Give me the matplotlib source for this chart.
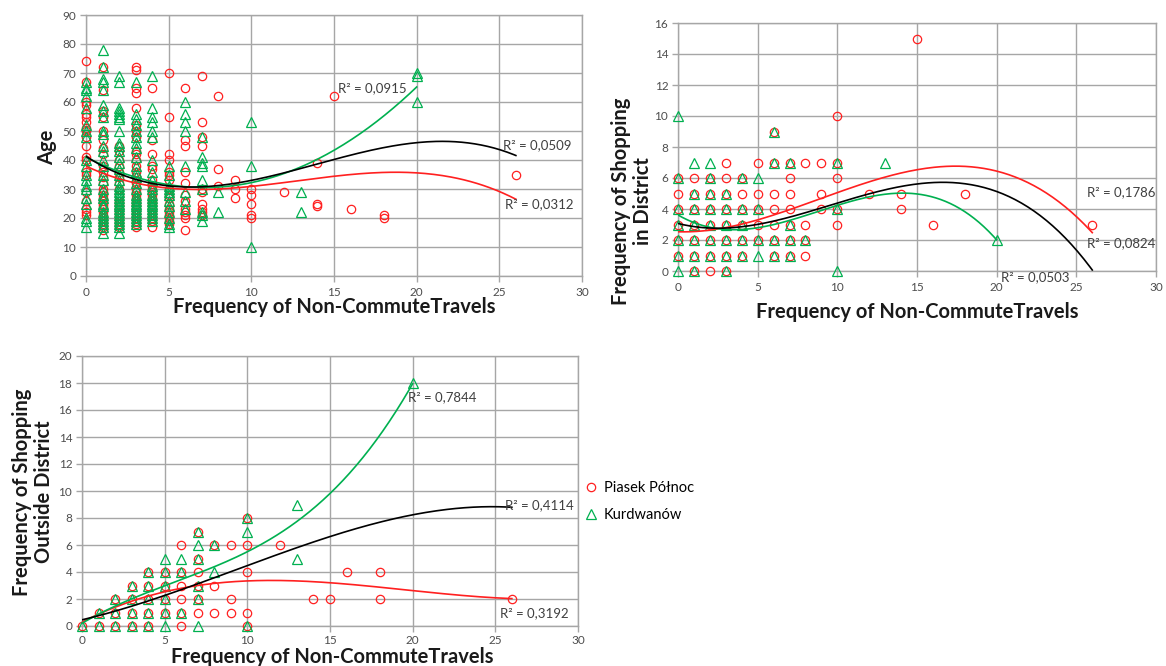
import numpy as np
import matplotlib
matplotlib.use("Agg")
import matplotlib.pyplot as plt

plt.rcParams['font.family'] = ['Lato', 'DejaVu Sans']

RED = '#FF2020'
GREEN = '#00B050'
GRID = '#A6A6A6'
TXT = '#404040'

series_labels = ['Piasek Północ', 'Kurdwanów']
xlabel = 'Frequency of Non-CommuteTravels'

# ---------------- Chart 1: Age ----------------
age_red = [
    (0,74),(0,67),(0,60),(0,59),(0,56),(0,55),(0,53),(0,51),(0,50),(0,48),(0,45),(0,41),(0,40),(0,36),(0,35),(0,29),(0,26),(0,23),(0,22),(0,21),
    (1,72),(1,64),(1,57),(1,55),(1,50),(1,47),(1,44),(1,42),(1,38),(1,36),(1,34),(1,32),(1,30),(1,29),(1,28),(1,27),(1,26),(1,25),(1,24),(1,23),(1,22),(1,21),(1,20),(1,19),(1,18),(1,17),(1,16),
    (2,45),(2,43),(2,40),(2,38),(2,36),(2,34),(2,32),(2,30),(2,28),(2,26),(2,25),(2,24),(2,23),(2,22),(2,21),(2,20),(2,19),(2,18),(2,17),
    (3,72),(3,71),(3,65),(3,63),(3,58),(3,52),(3,50),(3,48),(3,43),(3,42),(3,40),(3,38),(3,36),(3,34),(3,32),(3,30),(3,29),(3,28),(3,27),(3,26),(3,25),(3,24),(3,23),(3,22),(3,21),(3,20),(3,19),(3,18),(3,17),
    (4,65),(4,47),(4,42),(4,38),(4,37),(4,33),(4,31),(4,30),(4,29),(4,28),(4,27),(4,26),(4,25),(4,24),(4,23),(4,22),(4,21),(4,20),(4,19),(4,17),
    (5,70),(5,55),(5,42),(5,40),(5,36),(5,35),(5,33),(5,30),(5,28),(5,27),(5,25),(5,23),(5,22),(5,21),(5,20),(5,19),(5,18),
    (6,65),(6,47),(6,45),(6,36),(6,32),(6,28),(6,26),(6,23),(6,22),(6,21),(6,20),(6,16),
    (7,69),(7,53),(7,48),(7,45),(7,30),(7,29),(7,25),(7,23),(7,22),(7,21),
    (8,62),(8,37),(8,31),(9,33),(9,30),(9,27),
    (10,30),(10,28),(10,25),(10,21),(10,20),(12,29),
    (14,39),(14,25),(14,24),(15,62),(16,23),(18,21),(18,20),(26,35),
]
age_green = [
    (0,67),(0,65),(0,64),(0,62),(0,58),(0,52),(0,50),(0,48),(0,40),(0,38),(0,35),(0,33),(0,31),(0,30),(0,27),(0,25),(0,20),(0,19),(0,17),
    (1,78),(1,72),(1,68),(1,67),(1,64),(1,59),(1,57),(1,55),(1,50),(1,49),(1,45),(1,43),(1,40),(1,38),(1,35),(1,33),(1,30),(1,28),(1,27),(1,25),(1,24),(1,22),(1,21),(1,20),(1,19),(1,18),(1,17),(1,15),
    (2,69),(2,67),(2,58),(2,57),(2,56),(2,55),(2,54),(2,50),(2,46),(2,45),(2,43),(2,41),(2,39),(2,37),(2,35),(2,33),(2,31),(2,30),(2,29),(2,28),(2,27),(2,26),(2,25),(2,24),(2,23),(2,22),(2,21),(2,20),(2,19),(2,18),(2,17),(2,15),
    (3,67),(3,56),(3,54),(3,52),(3,50),(3,48),(3,46),(3,44),(3,41),(3,38),(3,36),(3,34),(3,32),(3,30),(3,28),(3,27),(3,26),(3,25),(3,24),(3,23),(3,22),(3,21),(3,20),(3,19),(3,18),
    (4,69),(4,58),(4,55),(4,53),(4,50),(4,48),(4,40),(4,36),(4,33),(4,31),(4,30),(4,28),(4,27),(4,26),(4,25),(4,24),(4,23),(4,22),(4,21),(4,20),(4,19),
    (5,38),(5,35),(5,31),(5,30),(5,29),(5,28),(5,26),(5,24),(5,22),(5,20),(5,18),(5,17),
    (6,60),(6,56),(6,53),(6,50),(6,38),(6,29),(6,26),(6,23),
    (7,48),(7,41),(7,39),(7,38),(7,33),(7,30),(7,22),(7,21),(7,19),
    (8,29),(8,22),(10,53),(10,38),(10,10),(13,29),(13,22),(20,70),(20,69),(20,60),
]
# trendline shapes (x, y)
age_trend_red = [(0,38),(3,32),(5,30),(8,30.2),(10,31),(13,33),(16,35),(20,35.4),(23,33),(26,26.5)]
age_trend_green = [(0,41),(3,34),(5,31.5),(7,30.8),(10,32),(15,42.9),(17,51.4),(20,65)]
age_trend_black = [(0,41),(3,34),(5,31),(8,30.8),(10,32.5),(15,41),(20,45.9),(22,46),(26,41.7)]
age_r2 = ['R² = 0,0312', 'R² = 0,0915', 'R² = 0,0509']
age_r2_pos = [(25.35,24.8),(15.25,64.8),(25.2,45.2)]

# ---------------- Chart 2: Shopping in district ----------------
ind_red = [
    (0,1),(0,2),(0,3),(0,4),(0,5),(0,6),(1,0),(1,1),(1,2),(1,3),(1,4),(1,5),(1,6),
    (2,0),(2,1),(2,2),(2,3),(2,4),(2,5),(2,6),(3,0),(3,1),(3,2),(3,3),(3,4),(3,5),(3,6),(3,7),
    (4,1),(4,2),(4,3),(4,4),(4,5),(4,6),(5,2),(5,3),(5,4),(5,5),(5,7),
    (6,1),(6,2),(6,3),(6,4),(6,5),(6,7),(6,9),(7,1),(7,2),(7,3),(7,4),(7,5),(7,6),(7,7),
    (8,1),(8,2),(8,3),(8,7),(9,4),(9,5),(9,7),(10,3),(10,4),(10,6),(10,7),(10,10),
    (12,5),(14,4),(14,5),(15,15),(16,3),(18,5),(26,3),
]
ind_green = [
    (0,0),(0,1),(0,2),(0,3),(0,4),(0,6),(0,10),(1,0),(1,1),(1,2),(1,3),(1,4),(1,5),(1,7),
    (2,1),(2,2),(2,3),(2,4),(2,5),(2,6),(2,7),(3,0),(3,1),(3,2),(3,3),(3,4),(3,5),
    (4,1),(4,2),(4,3),(4,4),(4,6),(5,1),(5,2),(5,4),(5,6),(6,1),(6,2),(6,7),(6,9),
    (7,1),(7,2),(7,3),(7,7),(8,2),(10,0),(10,4),(10,7),(13,7),(20,2),
]
ind_trend_red = [(0,2.65),(3,2.7),(5,3.1),(10,5.3),(15,6.5),(18,6.85),(20,6.4),(23,4.9),(26,2.6)]
ind_trend_green = [(0,3.6),(3,2.7),(5,2.8),(10,4.2),(13,4.95),(15,5.0),(17,4.4),(20,2.0)]
ind_trend_black = [(0,3.1),(3,2.75),(5,2.95),(10,4.4),(13,5.3),(17.5,5.7),(20,5.1),(22.5,3.7),(26,0.1)]
ind_r2 = ['R² = 0,1786', 'R² = 0,0503', 'R² = 0,0824']
ind_r2_pos = [(25.7,5.1),(20.3,-0.4),(25.7,1.8)]

# ---------------- Chart 3: Shopping outside district ----------------
out_red = [
    (0,0),(1,0),(1,1),(2,0),(2,1),(2,2),(3,0),(3,1),(3,2),(3,3),(4,0),(4,1),(4,2),(4,3),(4,4),
    (5,1),(5,2),(5,3),(5,4),(6,0),(6,1),(6,2),(6,3),(6,4),(6,6),(7,1),(7,2),(7,3),(7,4),(7,5),(7,7),
    (8,1),(8,3),(8,6),(9,1),(9,2),(9,6),(10,0),(10,1),(10,4),(10,6),(10,8),
    (12,6),(14,2),(15,2),(16,4),(18,4),(18,2),(26,2),
]
out_green = [
    (0,0),(1,0),(1,1),(2,0),(2,1),(2,2),(3,0),(3,1),(3,2),(3,3),(4,0),(4,1),(4,2),(4,3),(4,4),
    (5,0),(5,1),(5,2),(5,3),(5,4),(5,5),(6,1),(6,4),(6,5),(7,0),(7,2),(7,3),(7,5),(7,6),(7,7),
    (8,4),(8,6),(10,0),(10,7),(10,8),(13,5),(13,9),(20,18),
]
out_trend_red = [(0,0.2),(3,1.9),(5,2.75),(8,3.05),(10,3.2),(13,3.3),(15,3.25),(20,2.7),(26,2.0)]
out_trend_green = [(0,0.2),(5,3.0),(10,5.4),(13,7.85),(15,9.85),(18,14.0),(20,18)]
out_trend_black = [(0,0.45),(5,2.3),(10,4.4),(15,6.7),(20,8.2),(26,8.8)]
out_r2 = ['R² = 0,3192', 'R² = 0,7844', 'R² = 0,4114']
out_r2_pos = [(25.3,0.96),(19.7,16.96),(25.6,8.96)]

W, H = 1166, 666
fig = plt.figure(figsize=(W/100, H/100), dpi=100)

def fax(x0, y0, x1, y1):
    return fig.add_axes([x0/W, 1-y1/H, (x1-x0)/W, (y1-y0)/H])

def style(ax, ymax, ystep, xpad=4):
    ax.set_xlim(0, 30)
    ax.set_ylim(0, ymax)
    ax.set_xticks(np.arange(0, 31, 5))
    ax.set_yticks(np.arange(0, ymax+0.1, ystep))
    ax.grid(True, color=GRID, lw=1.0)
    ax.set_axisbelow(True)
    for s in ax.spines.values():
        s.set_color(GRID)
        s.set_linewidth(1.0)
    ax.tick_params(colors=GRID, labelcolor='#4d4d4d', labelsize=8.5, length=4, width=1.0)
    ax.tick_params(axis='y', pad=3)
    ax.tick_params(axis='x', pad=xpad)

def trend(ax, pts, color, xmax):
    px = [p[0] for p in pts]
    py = [p[1] for p in pts]
    c = np.polyfit(px, py, 3)
    xs = np.linspace(0, xmax, 200)
    ax.plot(xs, np.polyval(c, xs), color=color, lw=1.2, zorder=4)

def scatter(ax, red, green):
    ax.plot([p[0] for p in red], [p[1] for p in red], 'o', mfc='none', mec=RED,
            ms=6.0, mew=0.9, clip_on=False, zorder=3, label=series_labels[0])
    ax.plot([p[0] for p in green], [p[1] for p in green], '^', mfc='none', mec=GREEN,
            ms=6.6, mew=0.9, clip_on=False, zorder=3, label=series_labels[1])

def r2(ax, labels, pos):
    for t, (x, y) in zip(labels, pos):
        ax.text(x, y, t, fontsize=9.5, color=TXT, ha='left', va='center', zorder=6, clip_on=False)

ax1 = fax(86, 15, 582, 276)
style(ax1, 90, 10)
scatter(ax1, age_red, age_green)
trend(ax1, age_trend_red, RED, 26)
trend(ax1, age_trend_green, GREEN, 20)
trend(ax1, age_trend_black, 'black', 26)
r2(ax1, age_r2, age_r2_pos)

ax2 = fax(678, 23, 1156, 271)
style(ax2, 16, 2)
scatter(ax2, ind_red, ind_green)
trend(ax2, ind_trend_red, RED, 26)
trend(ax2, ind_trend_green, GREEN, 20)
trend(ax2, ind_trend_black, 'black', 26)
r2(ax2, ind_r2, ind_r2_pos)

ax3 = fax(82, 356, 578, 626)
style(ax3, 20, 2, xpad=2.5)
scatter(ax3, out_red, out_green)
trend(ax3, out_trend_red, RED, 26)
trend(ax3, out_trend_green, GREEN, 20)
trend(ax3, out_trend_black, 'black', 26)
r2(ax3, out_r2, out_r2_pos)

lab = dict(fontsize=14.5, fontweight='bold', color='#1a1a1a')
fig.text(334/W, 1-307/H, xlabel, ha='center', va='center', **lab)
fig.text(917/W, 1-312/H, xlabel, ha='center', va='center', **lab)
fig.text(332/W, 1-657/H, xlabel, ha='center', va='center', **lab)
fig.text(47/W, 1-147/H, 'Age', rotation=90, ha='center', va='center', **lab)
fig.text(632/W, 1-201/H, 'Frequency of Shopping\nin District', rotation=90,
         ha='center', va='center', multialignment='center', linespacing=1.1, **lab)
fig.text(33/W, 1-492/H, 'Frequency of Shopping\nOutside District', rotation=90,
         ha='center', va='center', multialignment='center', linespacing=1.1, **lab)

h, l = ax3.get_legend_handles_labels()
fig.legend(h, l, loc='upper left', bbox_to_anchor=(582/W, 1-478/H), frameon=False,
           fontsize=10.5, handlelength=0.8, handletextpad=0.5, labelspacing=0.9,
           borderaxespad=0, borderpad=0.2)

fig.savefig('out.png', dpi=100, facecolor='white')
